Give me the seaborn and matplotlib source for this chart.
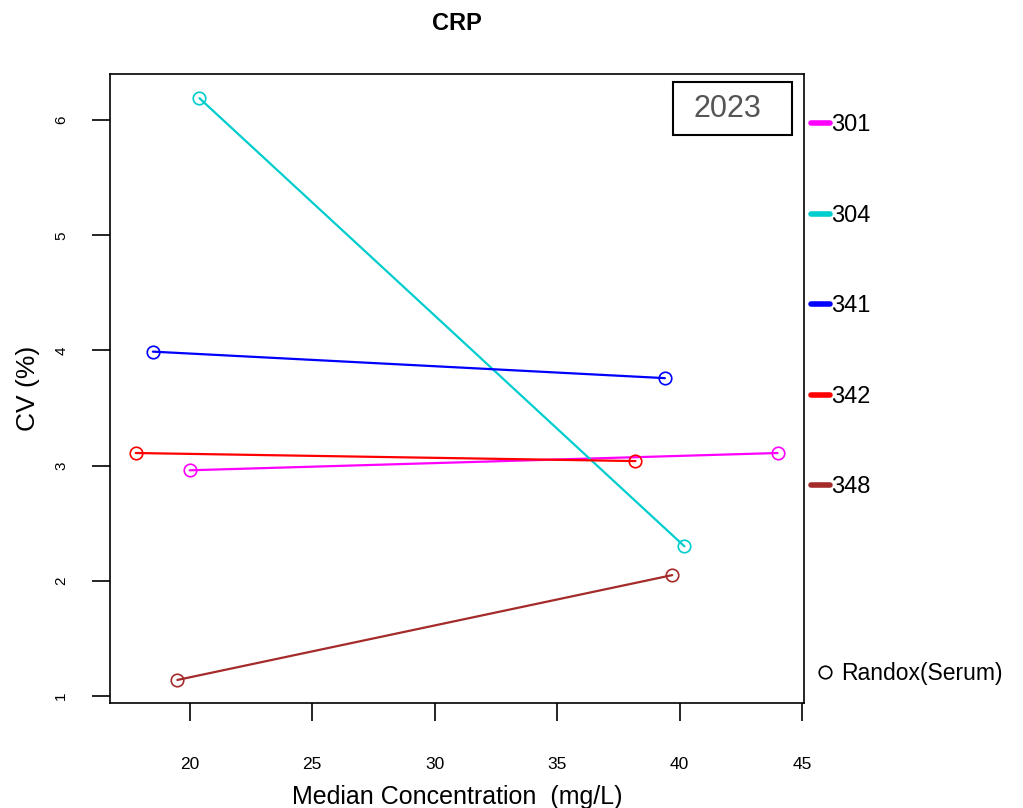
import matplotlib
matplotlib.use("Agg")
import matplotlib.pyplot as plt
from matplotlib.lines import Line2D
from matplotlib.patches import Rectangle
import seaborn as sns
import pandas as pd

labs = ["301", "304", "341", "342", "348"]
colors = ["#FF00FF", "#00CDCD", "#0000FF", "#FF0000", "#A52A2A"]
conc_low = [20.0, 20.4, 18.5, 17.8, 19.5]
conc_high = [44.0, 40.2, 39.4, 38.2, 39.7]
cv_low = [2.96, 6.19, 3.99, 3.11, 1.14]
cv_high = [3.11, 2.30, 3.76, 3.04, 2.05]
xticks = [20, 25, 30, 35, 40, 45]
yticks = [1, 2, 3, 4, 5, 6]

rows = []
for i, lab in enumerate(labs):
    rows.append({"lab": lab, "conc": conc_low[i], "cv": cv_low[i]})
    rows.append({"lab": lab, "conc": conc_high[i], "cv": cv_high[i]})
df = pd.DataFrame(rows)

sns.set_theme(style="white")
plt.rcParams["font.family"] = ["Liberation Sans", "DejaVu Sans"]
plt.rcParams["text.color"] = "black"
plt.rcParams["axes.labelcolor"] = "black"
plt.rcParams["xtick.color"] = "black"
plt.rcParams["ytick.color"] = "black"

fig = plt.figure(figsize=(10.23, 8.08), dpi=100)
ax = fig.add_axes([110 / 1023, 1 - 703 / 808, (804 - 110) / 1023, (703 - 74) / 808])

for lab, c in zip(labs, colors):
    sns.lineplot(data=df[df["lab"] == lab], x="conc", y="cv", color=c, ax=ax,
                 sort=False, estimator=None, marker="o", markersize=9,
                 markerfacecolor="none", markeredgecolor=c, markeredgewidth=1.2,
                 linewidth=1.6, legend=False)

ax.set_xlim(16.75, 45.08)
ax.set_ylim(0.94, 6.40)
ax.set_xticks(xticks)
ax.set_yticks(yticks)
ax.set_xticklabels([str(t) for t in xticks], fontsize=12.5)
ax.set_yticklabels([str(t) for t in yticks], fontsize=11, rotation=90, va="center")
ax.tick_params(axis="both", direction="out", length=13, width=1.2, color="black",
               bottom=True, left=True)
ax.tick_params(axis="x", pad=26)
ax.tick_params(axis="y", pad=17)
for s in ax.spines.values():
    s.set_visible(True)
    s.set_color("black")
    s.set_linewidth(1.2)
ax.grid(False)

ax.set_xlabel("Median Concentration  (mg/L)", fontsize=18, labelpad=9)
ax.set_ylabel("CV (%)", fontsize=19, labelpad=10)
ax.set_title("CRP", fontsize=17, fontweight="bold", pad=32)

ax.add_patch(Rectangle((0.811, 0.903), 0.172, 0.084, transform=ax.transAxes,
                       facecolor="white", edgecolor="black", linewidth=1.5, zorder=3))
ax.text(0.889, 0.944, "2023", transform=ax.transAxes, fontsize=22, color="#555555",
        ha="center", va="center", zorder=4)

handles = [Line2D([0], [0], color=c, linewidth=4) for c in colors]
leg1 = ax.legend(handles, labs, loc="upper left", bbox_to_anchor=(1.0, 0.947),
                 frameon=False, fontsize=17, handlelength=0.8, handletextpad=0.05,
                 labelspacing=2.9, borderaxespad=0.2, borderpad=0.1)
ax.add_artist(leg1)
h2 = [Line2D([0], [0], color="black", linestyle="none", marker="o",
             markerfacecolor="none", markersize=9, markeredgewidth=1.2)]
ax.legend(h2, ["Randox(Serum)"], loc="center left", bbox_to_anchor=(1.0, 0.047),
          frameon=False, fontsize=16.5, handlelength=0.8, handletextpad=0.3,
          borderaxespad=0.1)

fig.savefig("out.png", dpi=100)
